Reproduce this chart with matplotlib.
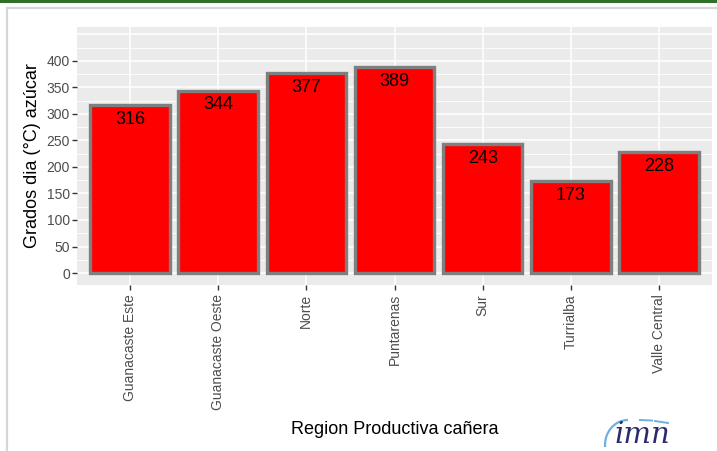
import matplotlib.pyplot as plt
import numpy as np
from matplotlib.lines import Line2D
from matplotlib.patches import Arc

plt.rcParams['font.family'] = ['Liberation Sans', 'DejaVu Sans']

regions = ["Guanacaste Este", "Guanacaste Oeste", "Norte", "Puntarenas",
           "Sur", "Turrialba", "Valle Central"]
grados = [316, 344, 377, 389, 243, 173, 228]
yticks = [0, 50, 100, 150, 200, 250, 300, 350, 400]

W, H = 717, 451
fig = plt.figure(figsize=(W / 100, H / 100), dpi=100)

# marco y barra superior
fig.add_artist(Line2D([0, 1], [1 - 1 / H, 1 - 1 / H], color="#2f6e2b", lw=2.2))
fig.add_artist(Line2D([7 / W, 1], [1 - 8 / H, 1 - 8 / H], color="#d6d6d6", lw=1.6))
fig.add_artist(Line2D([7 / W, 7 / W], [0, 1 - 8 / H], color="#d6d6d6", lw=1.6))

left, right, top, bottom = 77, 712, 27, 285
ax = fig.add_axes([left / W, 1 - bottom / H, (right - left) / W, (bottom - top) / H])
ax.set_facecolor("#ebebeb")
for s in ax.spines.values():
    s.set_visible(False)

x = np.arange(len(regions))
ax.set_xlim(-0.6, len(regions) - 0.4)
ax.set_ylim(-22.6, 464)

# rejilla estilo ggplot
for v in np.arange(25, 451, 50):
    ax.axhline(v, color="white", lw=0.6, zorder=0)
for v in np.arange(0, 451, 50):
    ax.axhline(v, color="white", lw=1.1, zorder=0)
for xi in x:
    ax.axvline(xi, color="white", lw=1.1, zorder=0)

ax.bar(x, grados, width=0.9, color="#ff0000", edgecolor="#7f7f7f",
       linewidth=2.4, zorder=2)
for xi, v in zip(x, grados):
    ax.annotate(f"{v}", (xi, v), xytext=(0, -13.5), textcoords="offset points",
                ha="center", va="baseline", fontsize=13, color="black", zorder=3)

ax.set_xticks(x)
ax.set_xticklabels(regions, rotation=90, va="top", ha="center")
ax.set_yticks(yticks)
ax.tick_params(axis="both", colors="#333333", labelcolor="#4d4d4d",
               labelsize=10, length=3.5, width=1)
ax.tick_params(axis="x", pad=3)
ax.tick_params(axis="y", pad=1.5)

fig.text(33 / W, 1 - 156 / H, "Grados dia (°C) azúcar", rotation=90,
         ha="center", va="center", fontsize=13)
fig.text(395 / W, 1 - 434 / H, "Region Productiva cañera",
         ha="center", va="baseline", fontsize=13)

# logo imn
lax = fig.add_axes([590 / W, 0, 100 / W, 40 / H])
lax.set_xlim(0, 100)
lax.set_ylim(0, 40)
lax.axis("off")
lax.text(52, 8, "imn", fontsize=21, fontstyle="italic", family="DejaVu Serif",
         color="#2a2a6e", ha="center", va="baseline")
lax.add_patch(Arc((38, 6), 46, 50, theta1=90, theta2=185, color="#6fb0e0", lw=1.6))
lax.plot([50, 62], [31, 30.5], color="#6fb0e0", lw=1.4)
lax.plot([65, 78], [30, 28], color="#6fb0e0", lw=1.4)

fig.savefig("out.png", dpi=100)
